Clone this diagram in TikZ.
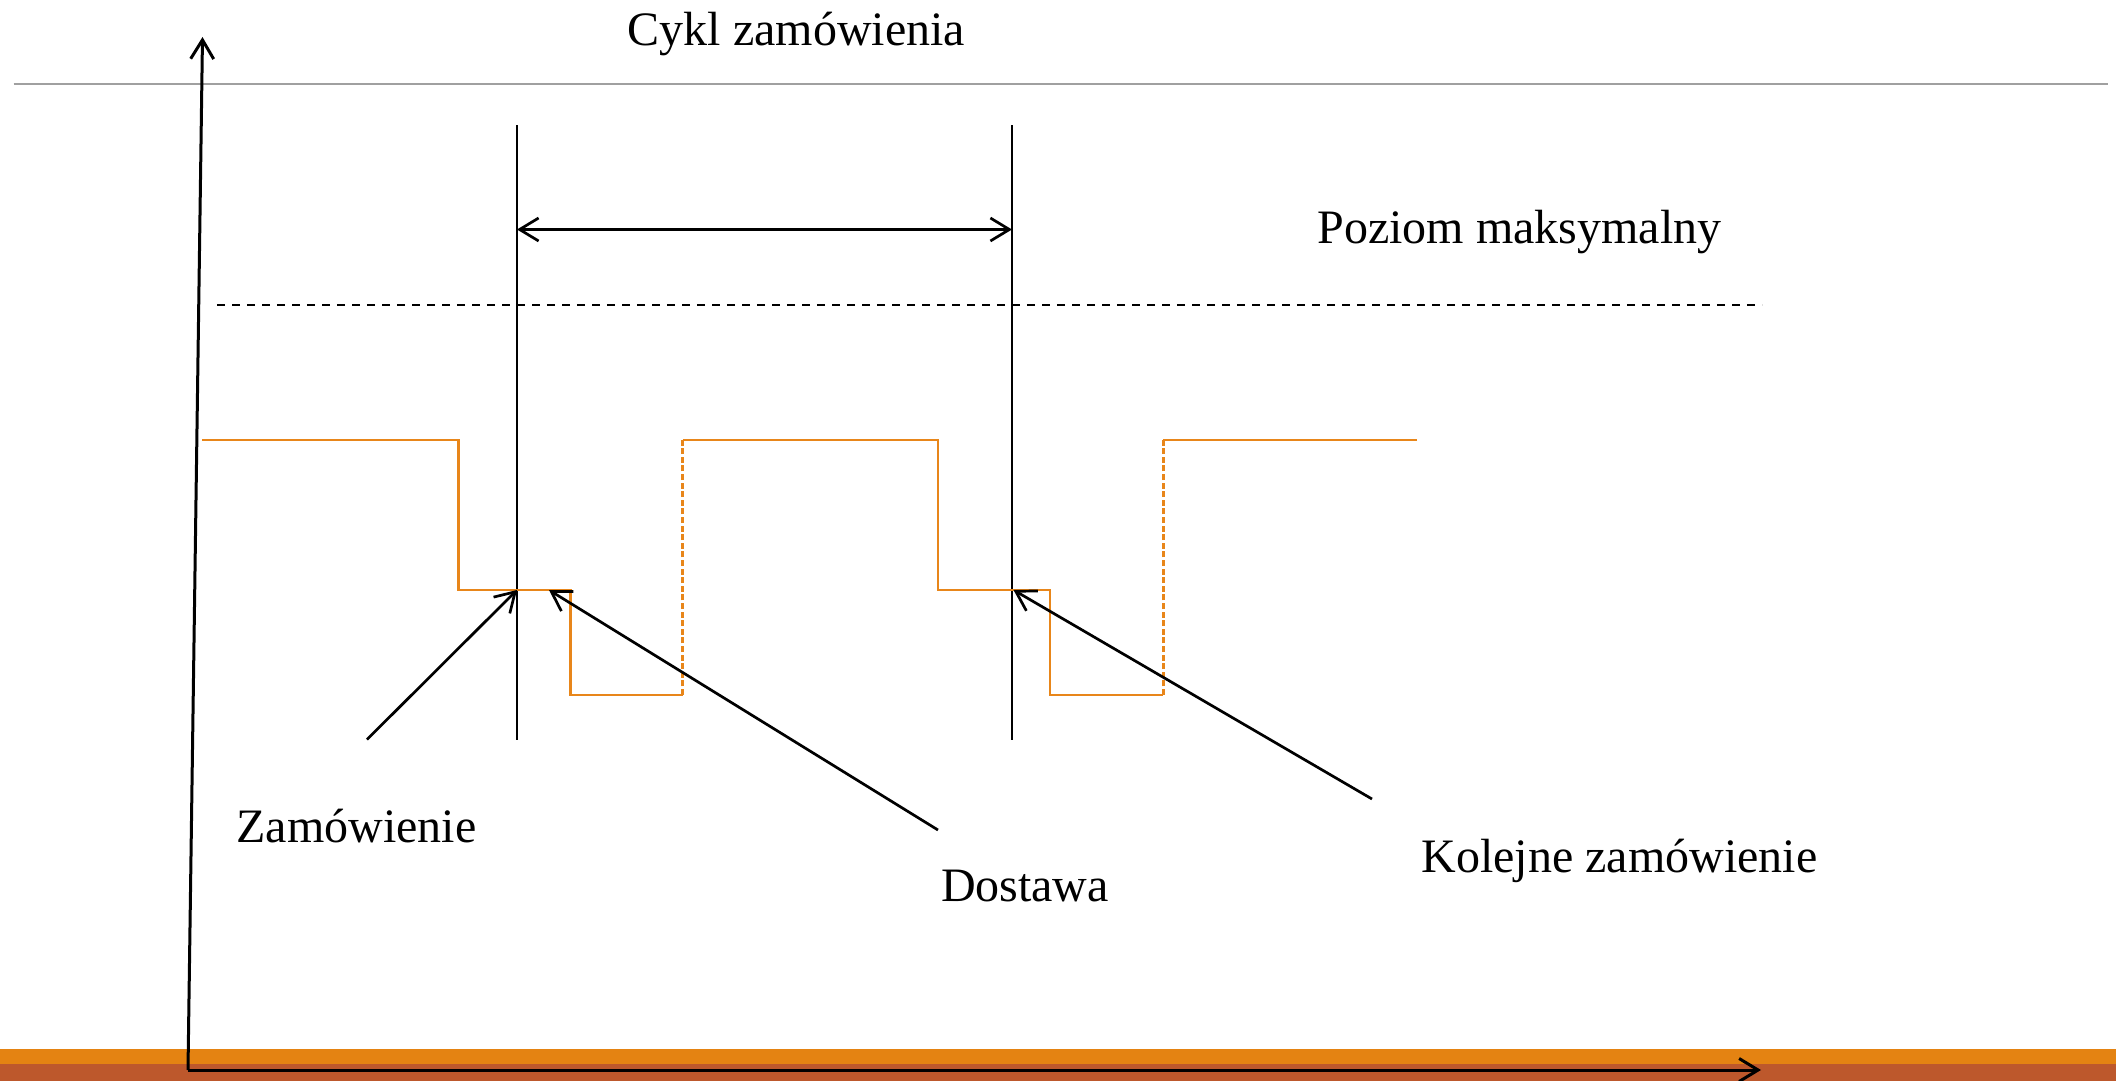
\documentclass[tikz,border=0pt]{standalone}
\usepackage{fontspec}
\setmainfont{Liberation Serif}
\usetikzlibrary{arrows.meta}
\definecolor{barorange}{HTML}{E48312}
\definecolor{barrust}{HTML}{BD582C}
\definecolor{stepline}{HTML}{E8861A}
\definecolor{rulegray}{HTML}{A0A0A0}
\begin{document}
\begin{tikzpicture}[x=0.5pt,y=-0.5pt,
  lbl/.style={anchor=base west,inner sep=0pt,font=\fontsize{24}{28}\selectfont},
  blk/.style={line width=1.35pt,black},
  barb/.tip={Straight Barb[length=9.5pt,width=11.5pt,line width=1.35pt]},
  arr/.style={blk,-barb},
  axisarr/.style={line width=1.5pt,black,-{Straight Barb[length=9.5pt,width=11.5pt,line width=1.5pt]}},
  stepl/.style={line width=1.35pt,stepline},
  stepd/.style={stepl,dash pattern=on 3pt off 1.3pt},
]
\useasboundingbox (0,0) rectangle (2116,1081);
\fill[white] (0,0) rectangle (2116,1081);
\fill[barorange] (0,1049) rectangle (2116,1064);
\fill[barrust] (0,1064) rectangle (2116,1081);
\coordinate (gl) at (13.5,84);
\coordinate (gr) at (2108,84);
\draw[rulegray,line width=0.8pt] (gl) -- (gr);

% labels
\node[lbl] (title) at (627.5,46) {Cykl zamówienia};
\node[lbl] (maxlbl) at (1317,243) {Poziom maksymalny};
\node[lbl] (zam) at (236,842) {Zamówienie};
\node[lbl] (dost) at (940.6,901) {Dostawa};
\node[lbl] (kol) at (1421,872) {Kolejne zamówienie};

% axes
\coordinate (o) at (188,1070);
\coordinate (ytop) at (202.5,37);
\coordinate (xend) at (1761,1070);
\draw[axisarr] (o) -- (ytop);
\draw[axisarr] (o) -- (xend);

% vertical lines
\coordinate (v1t) at (517,125.5);
\coordinate (v1b) at (517,739.5);
\coordinate (v2t) at (1012,125.5);
\coordinate (v2b) at (1012,739.5);
\draw[blk] (v1t) -- (v1b);
\draw[blk] (v2t) -- (v2b);

% cycle double arrow
\coordinate (c1) at (517,229.5);
\coordinate (c2) at (1012,229.5);
\draw[blk,barb-barb] (c1) -- (c2);

% maximum level
\coordinate (m1) at (217,305);
\coordinate (m2) at (1762,305);
\draw[blk,line width=1.2pt,dash pattern=on 4pt off 3.5pt] (m1) -- (m2);

% stock step line
\draw[stepl] (202.4,440) -| (458.8,590) -| (570.8,695) -- (682.8,695);
\draw[stepd] (682.8,695) -- (682.8,440);
\draw[stepl] (682.8,440) -| (938,590) -| (1050,695) -- (1163.3,695);
\draw[stepd] (1163.3,695) -- (1163.3,440);
\draw[stepl] (1163.3,440) -- (1417,440);

% pointer arrows
\coordinate (zs) at (367,739.5);
\coordinate (zt) at (517,590);
\coordinate (ds) at (938,830);
\coordinate (dt) at (549,590);
\coordinate (ks) at (1372,799);
\coordinate (kt) at (1013.5,590);
\draw[arr] (zs) -- (zt);
\draw[arr] (ds) -- (dt);
\draw[arr] (ks) -- (kt);
\end{tikzpicture}
\end{document}
